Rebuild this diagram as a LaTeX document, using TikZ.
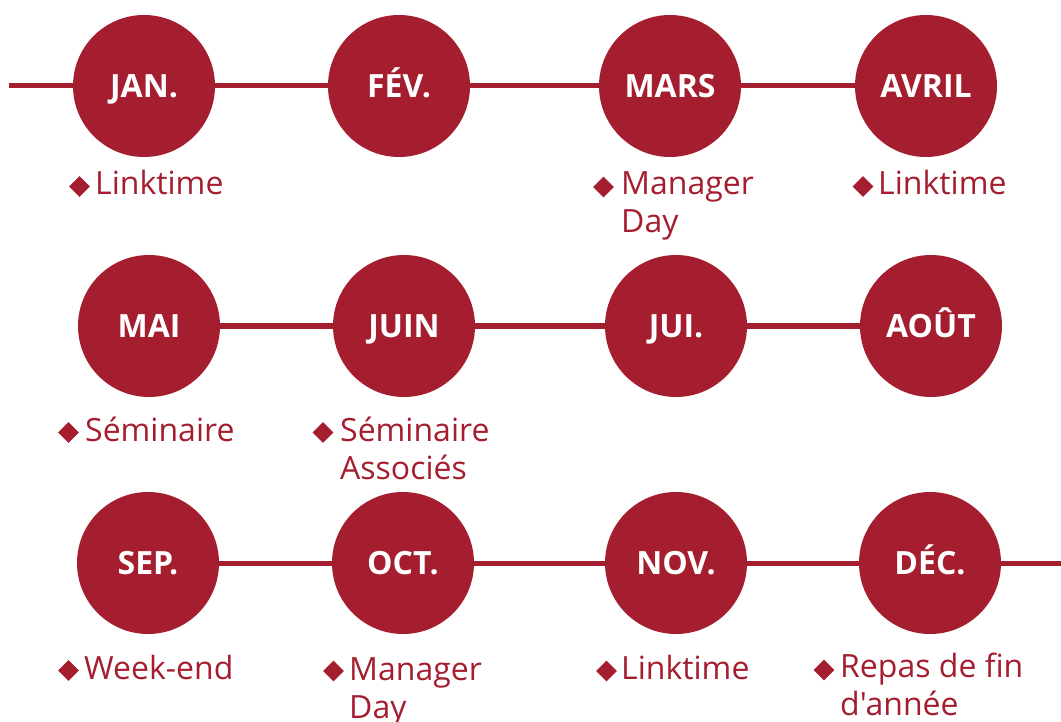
\documentclass[tikz,border=0pt]{standalone}
\usepackage{fontspec}
\setmainfont{Open Sans}[Ligatures=TeXOff]
\usetikzlibrary{shapes.geometric}
\definecolor{crim}{HTML}{A41E2F}
\tikzset{
  month/.style={circle, fill=crim, draw=none, minimum size=142pt, inner sep=0pt,
    text=white, font=\fontsize{32}{38}\selectfont\bfseries, text height=23pt, text depth=0pt},
  link/.style={draw=crim, line width=5pt},
  bul/.style={diamond, fill=crim, draw=none, minimum size=21pt, inner sep=0pt},
  lab/.style={anchor=base west, inner sep=0pt, text=crim}
}
\newcommand{\labtext}[1]{\parbox[t]{260pt}{\raggedright\fontsize{32}{38}\selectfont #1}}
\begin{document}
\begin{tikzpicture}[x=1pt,y=-1pt]
\useasboundingbox (0,0) rectangle (1061,722);
% row 1
\node[month] (jan) at (144,86) {JAN.};
\node[month] (fev) at (399,86) {FÉV.};
\node[month] (mars) at (670,86) {MARS};
\node[month] (avr) at (926,86) {AVRIL};
% row 2
\node[month] (mai) at (149,326) {MAI};
\node[month] (juin) at (404,326) {JUIN};
\node[month] (jui) at (676,326) {JUI.};
\node[month] (aout) at (931,326) {AOÛT};
% row 3
\node[month] (sep) at (148,563) {SEP.};
\node[month] (oct) at (403,563) {OCT.};
\node[month] (nov) at (676,563) {NOV.};
\node[month] (dec) at (930,563) {DÉC.};
\coordinate (s1) at (9,86);
\coordinate (e3) at (1061,563);
% connectors
\draw[link] (s1) -- (jan);
\draw[link] (jan) -- (fev);
\draw[link] (fev) -- (mars);
\draw[link] (mars) -- (avr);
\draw[link] (mai) -- (juin);
\draw[link] (juin) -- (jui);
\draw[link] (jui) -- (aout);
\draw[link] (sep) -- (oct);
\draw[link] (oct) -- (nov);
\draw[link] (nov) -- (dec);
\draw[link] (dec) -- (e3);
% bullets and labels
\node[bul] (b1) at (79.5,186.5) {};
\node[lab] (l1) at (95,194.5) {\labtext{Linktime}};
\node[bul] (b3) at (603.5,187) {};
\node[lab] (l3) at (621,195) {\labtext{Manager\\Day}};
\node[bul] (b4) at (863,186.5) {};
\node[lab] (l4) at (878,194.5) {\labtext{Linktime}};
\node[bul] (b5) at (68.5,432.5) {};
\node[lab] (l5) at (85,441) {\labtext{Séminaire}};
\node[bul] (b6) at (323,432.5) {};
\node[lab] (l6) at (340,441) {\labtext{Séminaire\\Associés}};
\node[bul] (b9) at (68.5,670.5) {};
\node[lab] (l9) at (84,679) {\labtext{Week-end}};
\node[bul] (b10) at (333.5,671) {};
\node[lab] (l10) at (349,680) {\labtext{Manager\\Day}};
\node[bul] (b11) at (606.5,671) {};
\node[lab] (l11) at (621,679) {\labtext{Linktime}};
\node[bul] (b12) at (824,670) {};
\node[lab] (l12) at (840,677) {\labtext{Repas de fin\\d'année}};
\end{tikzpicture}
\end{document}
